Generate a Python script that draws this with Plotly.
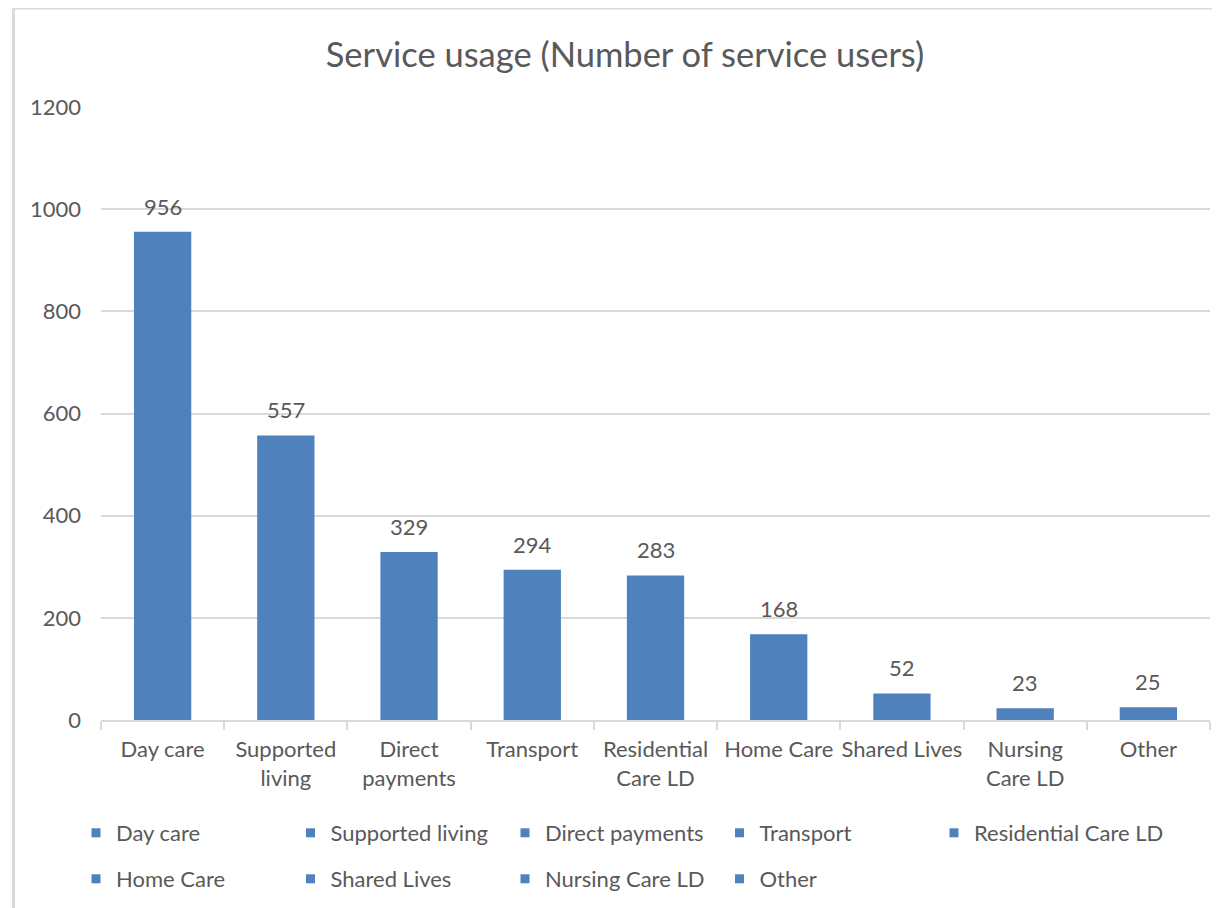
import plotly.graph_objects as go

categories = ["Day care", "Supported living", "Direct payments", "Transport",
              "Residential Care LD", "Home Care", "Shared Lives", "Nursing Care LD", "Other"]
tick_labels = ["Day care", "Supported<br>living", "Direct<br>payments", "Transport",
               "Residential<br>Care LD", "Home Care", "Shared Lives", "Nursing<br>Care LD", "Other"]
values = [956, 557, 329, 294, 283, 168, 52, 23, 25]
y_ticks = [0, 200, 400, 600, 800, 1000, 1200]

BAR = "#4F81BD"
TXT = "#595959"
GRID = "#D9D9D9"
FONT = "Lato"

# plot area on screen: x 101..1210, y 107..720 (page has 8px body offset)
PL, PR, PT, PB = 101, 1210, 107, 720
PW, PH = PR - PL, PB - PT

def px(x):
    return (x - PL) / PW

def py(y):
    return (PB - y) / PH

legend_of = ["legend", "legend", "legend", "legend", "legend3",
             "legend2", "legend2", "legend2", "legend2"]

fig = go.Figure()
fig.add_trace(go.Bar(x=categories, y=values, marker=dict(color=BAR, line=dict(width=0)),
                     width=0.465, showlegend=False, hoverinfo="x+y"))

for c, lg in zip(categories, legend_of):
    fig.add_trace(go.Scatter(x=[None], y=[None], mode="markers", name=c,
                             marker=dict(symbol="square", size=9, color=BAR),
                             legend=lg))

for c, v in zip(categories, values):
    fig.add_annotation(x=c, y=v, text=str(v), showarrow=False, yanchor="bottom",
                       yshift=10, font=dict(family=FONT, size=22, color=TXT))

leg_common = dict(orientation="h", xanchor="left", yanchor="middle",
                  font=dict(family=FONT, size=22, color=TXT),
                  entrywidth=169.5, entrywidthmode="pixels",
                  bgcolor="rgba(0,0,0,0)", traceorder="normal")

fig.update_layout(
    width=1220, height=908,
    margin=dict(l=93, r=18, t=99, b=196),
    paper_bgcolor="white", plot_bgcolor="white",
    font=dict(family=FONT, color=TXT),
    title=dict(text="Service usage (Number of service users)", x=617 / 1220, xanchor="center",
               y=1 - 47 / 908, yanchor="middle",
               font=dict(family=FONT, size=34.5, color=TXT)),
    legend=dict(x=px(76), y=py(833), **leg_common),
    legend2=dict(x=px(76), y=py(879), **leg_common),
    legend3=dict(x=px(76 + 4 * 214.5), y=py(833),
                 orientation="h", xanchor="left", yanchor="middle",
                 font=dict(family=FONT, size=22, color=TXT),
                 bgcolor="rgba(0,0,0,0)"),
    xaxis=dict(type="category", tickmode="array", tickvals=categories, ticktext=tick_labels,
               tickson="boundaries", ticks="outside", ticklen=8, tickcolor=GRID, tickwidth=2,
               tickangle=0, ticklabelstandoff=9,
               showline=True, linecolor=GRID, linewidth=2, showgrid=False,
               tickfont=dict(family=FONT, size=22, color=TXT)),
    yaxis=dict(range=[0, 1200], tickvals=y_ticks, showgrid=True, gridcolor=GRID, gridwidth=2,
               zeroline=False, showline=False, ticks="", ticklabelstandoff=19,
               tickfont=dict(family=FONT, size=22, color=TXT)),
    shapes=[
        dict(type="line", xref="paper", yref="paper",
             x0=px(13.5), x1=px(13.5), y0=py(8), y1=py(915),
             line=dict(color="#DADADA", width=3)),
        dict(type="line", xref="paper", yref="paper",
             x0=px(12), x1=px(1230), y0=py(8), y1=py(8),
             line=dict(color="#DADADA", width=3)),
    ],
)

fig.write_html("out.html")
